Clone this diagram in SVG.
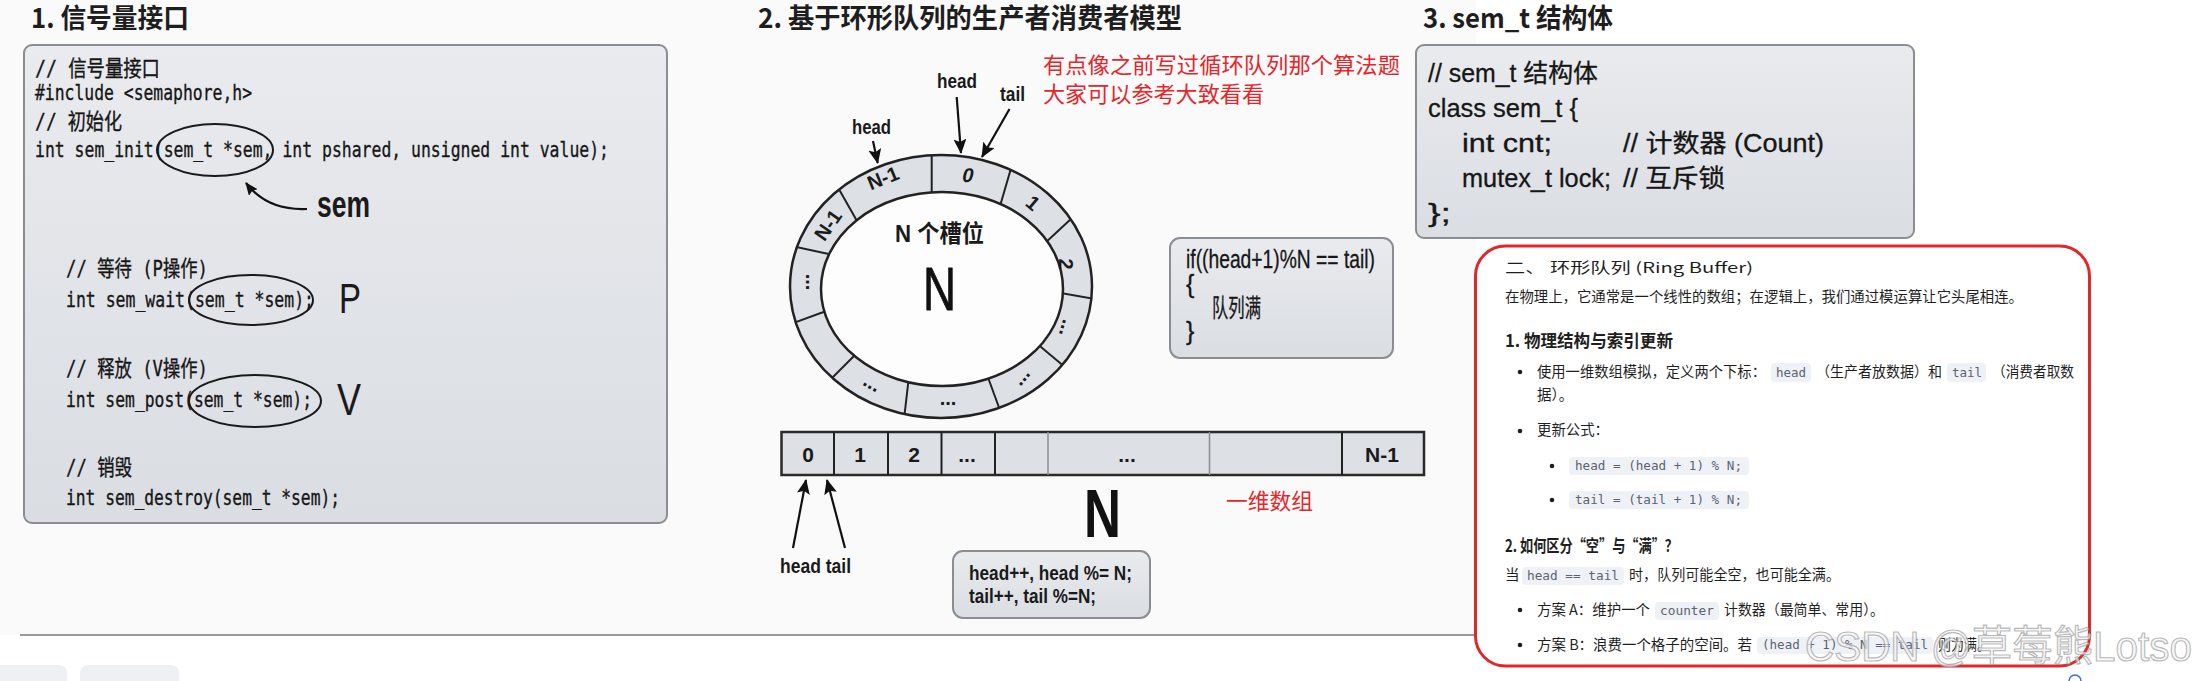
<svg xmlns="http://www.w3.org/2000/svg" width="2196" height="681" viewBox="0 0 2196 681">
<defs>
<linearGradient id="boxg" x1="0" y1="0" x2="0" y2="1">
<stop offset="0" stop-color="#e9ebee"/>
<stop offset="1" stop-color="#dadde2"/>
</linearGradient>
<clipPath id="outerclip"><ellipse cx="941" cy="286.5" rx="151" ry="131.5"/></clipPath>
<marker id="ah" viewBox="0 0 15 13" refX="14" refY="6.5" markerWidth="15" markerHeight="13" markerUnits="userSpaceOnUse" orient="auto">
<path d="M0,0 L15,6.5 L0,13 L3,6.5 z" fill="#111"/>
</marker>
<marker id="ahs" viewBox="0 0 13 11" refX="12" refY="5.5" markerWidth="13" markerHeight="11" markerUnits="userSpaceOnUse" orient="auto">
<path d="M0,0 L13,5.5 L0,11 L2,5.5 z" fill="#111"/>
</marker>
<style>
.title{font-family:"Noto Sans CJK SC","Liberation Sans",sans-serif;font-weight:700;font-size:27px;fill:#1e1e1e}
.box{fill:url(#boxg);stroke:#8a8d92;stroke-width:2}
.c1{font-family:"DejaVu Sans Mono","Noto Sans CJK SC",monospace;font-size:22px;fill:#161616;stroke:#161616;stroke-width:0.35}
.c3{font-family:"Liberation Sans","Noto Sans CJK SC",sans-serif;font-size:25px;fill:#161616;stroke:#161616;stroke-width:0.3}
.lbl{font-family:"Liberation Sans","Noto Sans CJK SC",sans-serif;font-weight:700;font-size:20px;fill:#1a1a1a}
.cell{font-family:"Liberation Sans",sans-serif;font-weight:700;font-size:21px;fill:#1a1a1a;text-anchor:middle}
.red{font-family:"Noto Sans CJK SC",sans-serif;font-size:22px;fill:#e4262b}
.oval{fill:none;stroke:#1a1a1a;stroke-width:2}
.ring{stroke:#222;stroke-width:2.5}
.div{stroke:#222;stroke-width:2}
.arr{stroke:#111;stroke-width:2.2;fill:none}
.body{font-family:"Noto Sans CJK SC","Liberation Sans",sans-serif;font-size:14.5px;fill:#1f1f1f}
.h2{font-family:"Noto Sans CJK SC","Liberation Sans",sans-serif;font-size:17px;font-weight:700;fill:#1f1f1f}
.chip{fill:#eef1f6}
.mono{font-family:"DejaVu Sans Mono","Liberation Mono",monospace;font-size:12.5px;fill:#5b6472}
.dot{fill:#1f1f1f}
</style>
</defs>

<rect x="0" y="0" width="2196" height="681" fill="#ffffff"/>
<rect x="0" y="0" width="1476" height="635" fill="#fafafa"/>
<line x1="20" y1="635" x2="1500" y2="635" stroke="#9a9a9a" stroke-width="2"/>
<rect x="-10" y="665" width="77" height="30" rx="8" fill="#eef0f4"/>
<rect x="80" y="665" width="99" height="30" rx="8" fill="#eef0f4"/>

<!-- Section 1 -->
<g id="sec1">
<text class="title" x="31" y="28" textLength="158" lengthAdjust="spacingAndGlyphs">1. 信号量接口</text>
<rect class="box" x="24" y="45" width="643" height="478" rx="8"/>
<text class="c1" x="35" y="76" textLength="125" lengthAdjust="spacingAndGlyphs">// 信号量接口</text>
<text class="c1" x="35" y="100" textLength="217" lengthAdjust="spacingAndGlyphs">#include &lt;semaphore,h&gt;</text>
<text class="c1" x="35" y="129" textLength="87" lengthAdjust="spacingAndGlyphs">// 初始化</text>
<text class="c1" x="35" y="157" textLength="574" lengthAdjust="spacingAndGlyphs">int sem_init(sem_t *sem, int pshared, unsigned int value);</text>
<text class="c1" x="66" y="276" textLength="142" lengthAdjust="spacingAndGlyphs">// 等待 (P操作)</text>
<text class="c1" x="66" y="307" textLength="248" lengthAdjust="spacingAndGlyphs">int sem_wait(sem_t *sem);</text>
<text class="c1" x="66" y="376" textLength="142" lengthAdjust="spacingAndGlyphs">// 释放 (V操作)</text>
<text class="c1" x="66" y="407" textLength="246" lengthAdjust="spacingAndGlyphs">int sem_post(sem_t *sem);</text>
<text class="c1" x="66" y="475" textLength="66" lengthAdjust="spacingAndGlyphs">// 销毁</text>
<text class="c1" x="66" y="505" textLength="274" lengthAdjust="spacingAndGlyphs">int sem_destroy(sem_t *sem);</text>
<ellipse class="oval" cx="215" cy="150" rx="58" ry="26"/>
<ellipse class="oval" cx="251" cy="300" rx="62" ry="25"/>
<ellipse class="oval" cx="255" cy="401" rx="66" ry="26"/>
<text x="317" y="217" font-family="Liberation Sans,sans-serif" font-weight="700" font-size="36" fill="#1a1a1a" textLength="53" lengthAdjust="spacingAndGlyphs">sem</text>
<text x="339" y="313" font-family="Liberation Sans,sans-serif" font-size="43" fill="#1a1a1a" textLength="22" lengthAdjust="spacingAndGlyphs">P</text>
<text x="337" y="415" font-family="Liberation Sans,sans-serif" font-size="44" fill="#1a1a1a" textLength="24" lengthAdjust="spacingAndGlyphs">V</text>
</g>

<!-- Section 2 -->
<g id="sec2-title">
<text class="title" x="758" y="28" textLength="424" lengthAdjust="spacingAndGlyphs">2. 基于环形队列的生产者消费者模型</text>
<text class="red" x="1043" y="73" textLength="357" lengthAdjust="spacingAndGlyphs">有点像之前写过循环队列那个算法题</text>
<text class="red" x="1043" y="102" textLength="221" lengthAdjust="spacingAndGlyphs">大家可以参考大致看看</text>
</g>

<g id="ring">
<ellipse cx="941" cy="286.5" rx="151" ry="131.5" fill="#dde0e5"/>
<g clip-path="url(#outerclip)">
<line class="div" x1="931.7" y1="150" x2="931.7" y2="200"/>
<line class="div" x1="1012" y1="165" x2="1000" y2="206"/>
<line class="div" x1="1072" y1="218" x2="1044" y2="244"/>
<line class="div" x1="1100" y1="300" x2="1055" y2="292"/>
<line class="div" x1="1066" y1="368" x2="1035" y2="342"/>
<line class="div" x1="1001" y1="413" x2="986" y2="372"/>
<line class="div" x1="903" y1="428" x2="909" y2="376"/>
<line class="div" x1="830" y1="380" x2="860" y2="350"/>
<line class="div" x1="788" y1="325" x2="829" y2="310"/>
<line class="div" x1="792" y1="246" x2="831" y2="254.5"/>
<line class="div" x1="836" y1="184" x2="857" y2="221"/>
</g>
<ellipse class="ring" cx="942" cy="289" rx="121" ry="97" fill="#fdfdfd"/>
<ellipse class="ring" cx="941" cy="286.5" rx="151" ry="131.5" fill="none"/>
<text class="lbl" x="883" y="178" dy="0.35em" text-anchor="middle" transform="rotate(-22 883 178)">N-1</text>
<text class="lbl" x="968" y="175" dy="0.35em" text-anchor="middle" font-style="italic" transform="rotate(3 968 175)">0</text>
<text class="lbl" x="1033" y="203" dy="0.35em" text-anchor="middle" transform="rotate(40 1033 203)">1</text>
<text class="lbl" x="1066" y="264" dy="0.35em" text-anchor="middle" transform="rotate(90 1066 264)">2</text>
<text class="lbl" x="1063" y="327" dy="2" text-anchor="middle" transform="rotate(105 1063 327)">...</text>
<text class="lbl" x="1025" y="380" dy="2" text-anchor="middle" transform="rotate(130 1025 380)">...</text>
<text class="lbl" x="948" y="403" dy="2" text-anchor="middle">...</text>
<text class="lbl" x="870" y="387" dy="2" text-anchor="middle" transform="rotate(30 870 387)">...</text>
<text class="lbl" x="808" y="282" dy="2" text-anchor="middle" transform="rotate(90 808 282)">...</text>
<text class="lbl" x="828" y="225" dy="0.35em" text-anchor="middle" transform="rotate(-55 828 225)">N-1</text>
<text x="895" y="242" font-family="Liberation Sans,Noto Sans CJK SC,sans-serif" font-weight="700" font-size="24" fill="#1a1a1a" textLength="89" lengthAdjust="spacingAndGlyphs">N 个槽位</text>
<text x="923" y="310" font-family="Liberation Sans,sans-serif" font-size="62" fill="#111" stroke="#111" stroke-width="0.8" textLength="33" lengthAdjust="spacingAndGlyphs">N</text>
</g>

<g id="ring-labels">
<text class="lbl" x="937" y="88" textLength="40" lengthAdjust="spacingAndGlyphs">head</text>
<text class="lbl" x="1000" y="101" textLength="25" lengthAdjust="spacingAndGlyphs">tail</text>
<text class="lbl" x="852" y="134" textLength="39" lengthAdjust="spacingAndGlyphs">head</text>
</g>

<g id="cond-box">
<rect class="box" x="1170" y="238" width="223" height="120" rx="10"/>
<text class="c3" font-size="22" x="1186" y="268" textLength="189" lengthAdjust="spacingAndGlyphs">if((head+1)%N == tail)</text>
<text class="c3" font-size="22" x="1186" y="293">{</text>
<text class="c3" font-size="22" x="1212" y="317" textLength="49" lengthAdjust="spacingAndGlyphs">队列满</text>
<text class="c3" font-size="22" x="1186" y="340">}</text>
</g>

<g id="array">
<rect x="781.5" y="432" width="642.5" height="43" fill="#dde0e5" stroke="#2a2a2a" stroke-width="2.5"/>
<line x1="834" y1="432" x2="834" y2="475" class="div"/>
<line x1="888" y1="432" x2="888" y2="475" class="div"/>
<line x1="941.5" y1="432" x2="941.5" y2="475" class="div"/>
<line x1="995" y1="432" x2="995" y2="475" class="div"/>
<line x1="1048" y1="432" x2="1048" y2="475" stroke="#8a8d92" stroke-width="1.5"/>
<line x1="1209.5" y1="432" x2="1209.5" y2="475" stroke="#8a8d92" stroke-width="1.5"/>
<line x1="1342" y1="432" x2="1342" y2="475" class="div"/>
<text class="cell" x="808" y="462">0</text>
<text class="cell" x="860" y="462">1</text>
<text class="cell" x="914" y="462">2</text>
<text class="cell" x="967" y="462">...</text>
<text class="cell" x="1127" y="462">...</text>
<text class="cell" x="1382" y="462">N-1</text>
<text class="lbl" x="780" y="573" textLength="71" lengthAdjust="spacingAndGlyphs">head tail</text>
<text x="1084" y="537" font-family="Liberation Sans,sans-serif" font-weight="700" font-size="69" fill="#111" textLength="37" lengthAdjust="spacingAndGlyphs">N</text>
<text class="red" x="1226" y="509" textLength="87" lengthAdjust="spacingAndGlyphs">一维数组</text>
</g>

<g id="update-box">
<rect class="box" x="953" y="551" width="197" height="67" rx="10"/>
<text class="lbl" x="969" y="580" textLength="163" lengthAdjust="spacingAndGlyphs">head++, head %= N;</text>
<text class="lbl" x="969" y="603" textLength="127" lengthAdjust="spacingAndGlyphs">tail++, tail %=N;</text>
</g>

<!-- Section 3 -->
<g id="sec3">
<text class="title" x="1423" y="28" textLength="190" lengthAdjust="spacingAndGlyphs">3. sem_t 结构体</text>
<rect class="box" x="1416" y="45" width="498" height="193" rx="8"/>
<text class="c3" x="1428" y="82" textLength="170" lengthAdjust="spacingAndGlyphs">// sem_t 结构体</text>
<text class="c3" x="1428" y="117" textLength="150" lengthAdjust="spacingAndGlyphs">class sem_t {</text>
<text class="c3" x="1462" y="152" textLength="90" lengthAdjust="spacingAndGlyphs">int cnt;</text>
<text class="c3" x="1623" y="152" textLength="201" lengthAdjust="spacingAndGlyphs">// 计数器 (Count)</text>
<text class="c3" x="1462" y="187" textLength="149" lengthAdjust="spacingAndGlyphs">mutex_t lock;</text>
<text class="c3" x="1623" y="187" textLength="102" lengthAdjust="spacingAndGlyphs">// 互斥锁</text>
<text class="c3" x="1428" y="222" textLength="23" lengthAdjust="spacingAndGlyphs">};</text>
</g>

<!-- Right panel -->
<g id="ring-buffer-note">
<rect x="1475.5" y="246" width="614" height="420" rx="30" fill="#ffffff" stroke="#e0282c" stroke-width="3"/>
<text class="body" font-size="21" x="1505" y="273" textLength="248" lengthAdjust="spacingAndGlyphs">二、 环形队列 (Ring Buffer)</text>
<text class="body" x="1505" y="302" textLength="518" lengthAdjust="spacingAndGlyphs">在物理上，它通常是一个线性的数组；在逻辑上，我们通过模运算让它头尾相连。</text>
<text class="h2" x="1505" y="347" textLength="168" lengthAdjust="spacingAndGlyphs">1. 物理结构与索引更新</text>
<circle class="dot" cx="1520" cy="372" r="2.3"/>
<text class="body" x="1537" y="377" textLength="229" lengthAdjust="spacingAndGlyphs">使用一维数组模拟，定义两个下标：</text>
<rect class="chip" x="1771" y="363" width="40" height="19" rx="4"/>
<text class="mono" x="1776" y="377">head</text>
<text class="body" x="1816" y="377" textLength="126" lengthAdjust="spacingAndGlyphs">（生产者放数据）和</text>
<rect class="chip" x="1947" y="363" width="39" height="19" rx="4"/>
<text class="mono" x="1952" y="377">tail</text>
<text class="body" x="1992" y="377" textLength="82" lengthAdjust="spacingAndGlyphs">（消费者取数</text>
<text class="body" x="1537" y="400">据）。</text>
<circle class="dot" cx="1520" cy="431" r="2.3"/>
<text class="body" x="1537" y="435" textLength="72" lengthAdjust="spacingAndGlyphs">更新公式：</text>
<circle class="dot" cx="1552" cy="466" r="2.3"/>
<rect class="chip" x="1569" y="457" width="180" height="18" rx="4"/>
<text class="mono" x="1575" y="470" textLength="167" lengthAdjust="spacingAndGlyphs">head = (head + 1) % N;</text>
<circle class="dot" cx="1552" cy="500" r="2.3"/>
<rect class="chip" x="1569" y="491" width="180" height="18" rx="4"/>
<text class="mono" x="1575" y="504" textLength="167" lengthAdjust="spacingAndGlyphs">tail = (tail + 1) % N;</text>
<text class="h2" x="1505" y="552" textLength="173" lengthAdjust="spacingAndGlyphs">2. 如何区分“空”与“满”？</text>
<text class="body" x="1505" y="580">当</text>
<rect class="chip" x="1522" y="567" width="102" height="18" rx="4"/>
<text class="mono" x="1527" y="580" textLength="92" lengthAdjust="spacingAndGlyphs">head == tail</text>
<text class="body" x="1629" y="580" textLength="211" lengthAdjust="spacingAndGlyphs">时，队列可能全空，也可能全满。</text>
<circle class="dot" cx="1520" cy="610" r="2.3"/>
<text class="body" x="1537" y="615" textLength="113" lengthAdjust="spacingAndGlyphs">方案 A：维护一个</text>
<rect class="chip" x="1655" y="602" width="64" height="18" rx="4"/>
<text class="mono" x="1660" y="615" textLength="54" lengthAdjust="spacingAndGlyphs">counter</text>
<text class="body" x="1724" y="615" textLength="160" lengthAdjust="spacingAndGlyphs">计数器（最简单、常用）。</text>
<circle class="dot" cx="1520" cy="645" r="2.3"/>
<text class="body" x="1537" y="650" textLength="215" lengthAdjust="spacingAndGlyphs">方案 B：浪费一个格子的空间。若</text>
<rect class="chip" x="1757" y="637" width="176" height="17" rx="4"/>
<text class="mono" x="1762" y="649" textLength="166" lengthAdjust="spacingAndGlyphs">(head + 1) % N == tail</text>
<text class="body" x="1938" y="650" textLength="52" lengthAdjust="spacingAndGlyphs">则为满。</text>
</g>

<!-- connectors -->
<g id="connectors">
<path class="arr" d="M307,209 C285,210 262,204 246,183" marker-end="url(#ahs)"/>
<line class="arr" x1="956.7" y1="97" x2="961" y2="153" marker-end="url(#ah)"/>
<line class="arr" x1="1009.5" y1="109" x2="982" y2="157" marker-end="url(#ah)"/>
<line class="arr" x1="873" y1="141" x2="877.7" y2="163" marker-end="url(#ah)"/>
<line class="arr" x1="793" y1="548" x2="806" y2="480" marker-end="url(#ah)"/>
<line class="arr" x1="845" y1="548" x2="827" y2="480" marker-end="url(#ah)"/>
</g>

<g id="watermark">
<text x="1805" y="661" font-family="Liberation Sans,Noto Sans CJK SC,sans-serif" font-size="42" fill="#f4f4f4" fill-opacity="0.7" stroke="#8c8c8c" stroke-opacity="0.6" stroke-width="1.2" textLength="387" lengthAdjust="spacingAndGlyphs">CSDN @草莓熊Lotso</text>
<path d="M2069,681 A6,6 0 0 1 2081,681" fill="none" stroke="#3a6fd8" stroke-width="1.5"/>
</g>
</svg>
